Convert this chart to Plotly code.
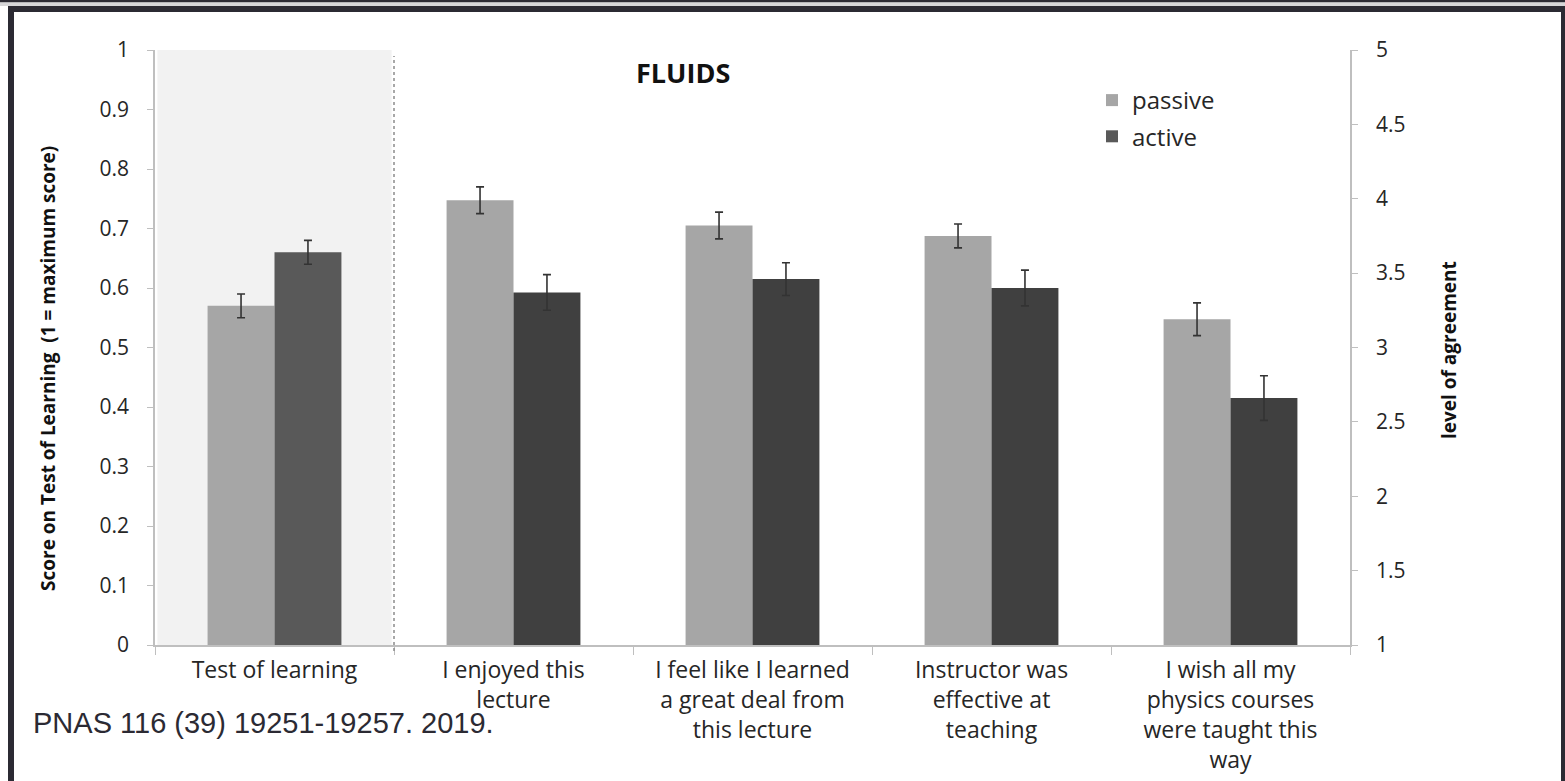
import plotly.graph_objects as go

# ---- data ----
categories = [
    "Test of learning",
    "I enjoyed this<br>lecture",
    "I feel like I learned<br>a great deal from<br>this lecture",
    "Instructor was<br>effective at<br>teaching",
    "I wish all my<br>physics courses<br>were taught this<br>way",
]
test_passive = [0.57]
test_active = [0.66]
test_passive_err = [0.02]
test_active_err = [0.02]

survey_passive = [3.99, 3.82, 3.75, 3.19]
survey_active = [3.37, 3.46, 3.40, 2.66]
survey_passive_err = [0.09, 0.09, 0.08, 0.11]
survey_active_err = [0.12, 0.11, 0.12, 0.15]

left_ticks = [0, 0.1, 0.2, 0.3, 0.4, 0.5, 0.6, 0.7, 0.8, 0.9, 1]
right_ticks = [1, 1.5, 2, 2.5, 3, 3.5, 4, 4.5, 5]
survey_base = 1

# ---- style ----
W, H = 1565, 781
L, R, T, B = 155, 1350, 50, 645
C_PASSIVE = "#a6a6a6"
C_ACTIVE_TEST = "#595959"
C_ACTIVE = "#404040"
C_FRAME = "#2b2a33"
C_TEXT = "#262626"
FONT = "'Open Sans', Lato, sans-serif"
BW = 0.28


def px_x(p):
    return (p - L) / (R - L)


def px_y(p):
    return (B - p) / (B - T)


err_style = dict(type="data", color="#333333", thickness=1.6, width=4, visible=True)

fig = go.Figure()
fig.add_trace(go.Bar(
    x=categories[:1], y=test_passive, name="passive", marker_color=C_PASSIVE,
    width=BW, offset=-BW, error_y=dict(array=test_passive_err, **err_style),
    yaxis="y", marker_line_width=0, legendgroup="p",
))
fig.add_trace(go.Bar(
    x=categories[:1], y=test_active, name="active", marker_color=C_ACTIVE_TEST,
    width=BW, offset=0, error_y=dict(array=test_active_err, **err_style),
    yaxis="y", marker_line_width=0, legendgroup="a",
))
fig.add_trace(go.Bar(
    x=categories[1:], y=[v - survey_base for v in survey_passive], base=survey_base,
    name="passive", marker_color=C_PASSIVE,
    width=BW, offset=-BW, error_y=dict(array=survey_passive_err, **err_style),
    yaxis="y2", showlegend=False, marker_line_width=0, legendgroup="p",
))
fig.add_trace(go.Bar(
    x=categories[1:], y=[v - survey_base for v in survey_active], base=survey_base,
    name="active", marker_color=C_ACTIVE,
    width=BW, offset=0, error_y=dict(array=survey_active_err, **err_style),
    yaxis="y2", showlegend=False, marker_line_width=0, legendgroup="a",
))

shapes = [
    # shaded "test of learning" region
    dict(type="rect", xref="x", yref="paper", x0=-0.49, x1=0.49, y0=0, y1=1,
         fillcolor="#f2f2f2", line_width=0, layer="below"),
    # dashed separator
    dict(type="line", xref="x", yref="paper", x0=0.5, x1=0.5, y0=-0.01, y1=0.99,
         line=dict(color="#8c8c8c", width=1.5, dash="3px,3px")),
    # frame
    dict(type="rect", xref="paper", yref="paper", x0=px_x(0), x1=px_x(W), y0=px_y(0), y1=px_y(2.5),
         fillcolor=C_FRAME, line_width=0),
    dict(type="rect", xref="paper", yref="paper", x0=px_x(0), x1=px_x(W), y0=px_y(2.5), y1=px_y(6),
         fillcolor="#d6d6d8", line_width=0),
    dict(type="rect", xref="paper", yref="paper", x0=px_x(8), x1=px_x(W), y0=px_y(6), y1=px_y(12),
         fillcolor=C_FRAME, line_width=0),
    dict(type="rect", xref="paper", yref="paper", x0=px_x(8), x1=px_x(14), y0=px_y(6), y1=px_y(H),
         fillcolor=C_FRAME, line_width=0),
    dict(type="rect", xref="paper", yref="paper", x0=px_x(1561), x1=px_x(W), y0=px_y(6), y1=px_y(H),
         fillcolor=C_FRAME, line_width=0),
]

annotations = [
    dict(text="<b>FLUIDS</b>", xref="paper", yref="paper", x=px_x(683), y=px_y(73),
         xanchor="center", yanchor="middle",
         showarrow=False, font=dict(family=FONT, size=27, color="#111111")),
    dict(text="<b>Score on Test of Learning  (1 = maximum score)</b>", xref="paper", yref="paper",
         x=px_x(48), y=px_y(369), textangle=-90, showarrow=False,
         xanchor="center", yanchor="middle",
         font=dict(family=FONT, size=19, color="#111111")),
    dict(text="<b>level of agreement</b>", xref="paper", yref="paper",
         x=px_x(1449), y=px_y(350), textangle=-90, showarrow=False,
         xanchor="center", yanchor="middle",
         font=dict(family=FONT, size=19, color="#111111")),
    dict(text="PNAS 116 (39) 19251-19257. 2019.", xref="paper", yref="paper",
         x=px_x(31), y=px_y(723), xanchor="left", yanchor="middle", showarrow=False,
         font=dict(family="'Liberation Sans', Arial, sans-serif", size=29, color=C_FRAME)),
]

axis_common = dict(
    showline=True, linecolor="#bfbfbf", linewidth=1.5, ticks="outside", ticklen=6,
    tickcolor="#bfbfbf", showgrid=False, zeroline=False, automargin=False,
    tickfont=dict(family=FONT, size=21, color=C_TEXT),
)

fig.update_layout(
    width=W, height=H,
    margin=dict(l=L, r=W - R, t=T, b=H - B, pad=0, autoexpand=False),
    paper_bgcolor="white", plot_bgcolor="white",
    barmode="overlay",
    showlegend=True,
    legend=dict(x=px_x(1092), y=px_y(78), xanchor="left", yanchor="top",
                font=dict(family=FONT, size=24, color=C_TEXT), bgcolor="rgba(0,0,0,0)",
                itemwidth=30, traceorder="grouped", tracegroupgap=2),
    xaxis=dict(
        type="category", categoryorder="array", categoryarray=categories,
        range=[-0.5, 4.5], tickson="boundaries", ticklen=8, automargin=False,
        showline=True, linecolor="#bfbfbf", linewidth=1.5, ticks="outside",
        tickcolor="#bfbfbf", showgrid=False, ticklabelstandoff=4,
        tickfont=dict(family=FONT, size=23, color=C_TEXT),
    ),
    yaxis=dict(range=[0, 1], tickvals=left_ticks, ticklabelstandoff=14, **axis_common),
    yaxis2=dict(range=[1, 5], tickvals=right_ticks, overlaying="y", side="right",
                ticklabelstandoff=14, **axis_common),
    shapes=shapes,
    annotations=annotations,
)

fig.write_html("out.html", config={"displayModeBar": False},
               post_script="document.body.style.margin='0';")
